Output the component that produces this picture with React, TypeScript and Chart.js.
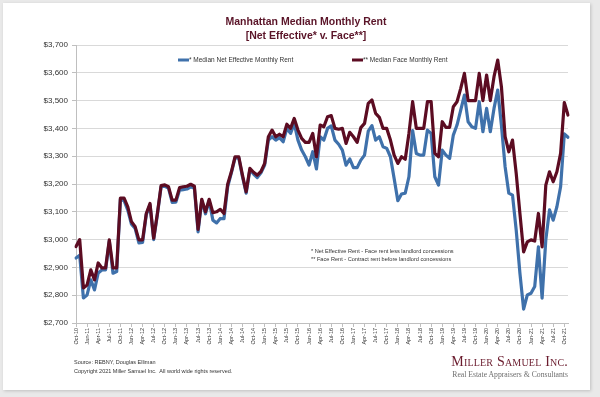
import React, { useEffect, useRef } from 'react';
import { Chart, registerables } from 'chart.js';

Chart.register(...registerables);

const months = [
  'Oct-10', 'Nov-10', 'Dec-10',
  'Jan-11', 'Feb-11', 'Mar-11', 'Apr-11', 'May-11', 'Jun-11', 'Jul-11', 'Aug-11', 'Sep-11', 'Oct-11', 'Nov-11', 'Dec-11',
  'Jan-12', 'Feb-12', 'Mar-12', 'Apr-12', 'May-12', 'Jun-12', 'Jul-12', 'Aug-12', 'Sep-12', 'Oct-12', 'Nov-12', 'Dec-12',
  'Jan-13', 'Feb-13', 'Mar-13', 'Apr-13', 'May-13', 'Jun-13', 'Jul-13', 'Aug-13', 'Sep-13', 'Oct-13', 'Nov-13', 'Dec-13',
  'Jan-14', 'Feb-14', 'Mar-14', 'Apr-14', 'May-14', 'Jun-14', 'Jul-14', 'Aug-14', 'Sep-14', 'Oct-14', 'Nov-14', 'Dec-14',
  'Jan-15', 'Feb-15', 'Mar-15', 'Apr-15', 'May-15', 'Jun-15', 'Jul-15', 'Aug-15', 'Sep-15', 'Oct-15', 'Nov-15', 'Dec-15',
  'Jan-16', 'Feb-16', 'Mar-16', 'Apr-16', 'May-16', 'Jun-16', 'Jul-16', 'Aug-16', 'Sep-16', 'Oct-16', 'Nov-16', 'Dec-16',
  'Jan-17', 'Feb-17', 'Mar-17', 'Apr-17', 'May-17', 'Jun-17', 'Jul-17', 'Aug-17', 'Sep-17', 'Oct-17', 'Nov-17', 'Dec-17',
  'Jan-18', 'Feb-18', 'Mar-18', 'Apr-18', 'May-18', 'Jun-18', 'Jul-18', 'Aug-18', 'Sep-18', 'Oct-18', 'Nov-18', 'Dec-18',
  'Jan-19', 'Feb-19', 'Mar-19', 'Apr-19', 'May-19', 'Jun-19', 'Jul-19', 'Aug-19', 'Sep-19', 'Oct-19', 'Nov-19', 'Dec-19',
  'Jan-20', 'Feb-20', 'Mar-20', 'Apr-20', 'May-20', 'Jun-20', 'Jul-20', 'Aug-20', 'Sep-20', 'Oct-20', 'Nov-20', 'Dec-20',
  'Jan-21', 'Feb-21', 'Mar-21', 'Apr-21', 'May-21', 'Jun-21', 'Jul-21', 'Aug-21', 'Sep-21', 'Oct-21', 'Nov-21',
];

const netEffectiveRent = [
  2934, 2944, 2790,
  2801, 2855, 2819, 2880, 2891, 2891, 2995, 2879, 2885, 3145, 3140, 3106,
  3055, 3040, 2988, 2990, 3090, 3125, 3000, 3090, 3190, 3192, 3185, 3134,
  3135, 3178, 3180, 3182, 3190, 3185, 3028, 3140, 3093, 3140, 3070, 3060,
  3076, 3075, 3190, 3240, 3294, 3294, 3226, 3167, 3250, 3236, 3223, 3240,
  3268, 3358, 3370, 3358, 3367, 3352, 3400, 3382, 3418, 3358, 3322, 3298,
  3268, 3316, 3254, 3370, 3358, 3400, 3409, 3358, 3343, 3322, 3268, 3290,
  3259, 3259, 3286, 3304, 3390, 3410, 3358, 3370, 3334, 3328, 3298, 3220,
  3140, 3164, 3167, 3226, 3392, 3310, 3304, 3304, 3394, 3382, 3226, 3196,
  3322, 3304, 3292, 3376, 3412, 3466, 3520, 3424, 3406, 3400, 3496, 3388,
  3472, 3388, 3472, 3538, 3412, 3262, 3167, 3160, 3034, 2879, 2750, 2801,
  2807, 2831, 2974, 2789, 2999, 3107, 3070, 3118, 3190, 3380, 3368,
];

const faceRent = [
  2975, 3000, 2826,
  2837, 2891, 2855, 2916, 2898, 2898, 2999, 2898, 2898, 3149, 3149, 3118,
  3064, 3046, 2999, 2999, 3094, 3130, 3005, 3094, 3194, 3197, 3190, 3142,
  3142, 3187, 3190, 3192, 3199, 3192, 3037, 3145, 3100, 3145, 3097, 3100,
  3109, 3094, 3199, 3244, 3298, 3298, 3232, 3172, 3256, 3242, 3232, 3245,
  3274, 3370, 3394, 3370, 3379, 3370, 3415, 3400, 3436, 3394, 3364, 3350,
  3350, 3382, 3298, 3412, 3406, 3442, 3446, 3400, 3397, 3400, 3346, 3386,
  3370, 3350, 3403, 3418, 3490, 3502, 3454, 3440, 3400, 3400, 3358, 3304,
  3274, 3298, 3289, 3382, 3496, 3400, 3400, 3400, 3496, 3496, 3310, 3298,
  3424, 3404, 3404, 3478, 3496, 3544, 3598, 3500, 3500, 3500, 3598, 3500,
  3592, 3500, 3586, 3646, 3550, 3370, 3316, 3358, 3238, 3094, 2956, 2992,
  2999, 2995, 3094, 2974, 3196, 3244, 3208, 3244, 3310, 3493, 3448,
];

const seriesLabels = ['* Median Net Effective Monthly Rent', '** Median Face Monthly Rent'];
const seriesColors = ['#3f71ab', '#5c0c22'];
const yMin = 2700;
const yMax = 3700;
const yStep = 100;
const labelEvery = 3;

const titleLines = ['Manhattan Median Monthly Rent', '[Net Effective* v. Face**]'];
const footnotes = [
  '* Net Effective Rent - Face rent less landlord concessions',
  '** Face Rent - Contract rent before landlord concessions',
];
const sourceLines = [
  'Source: REBNY, Douglas Elliman',
  'Copyright 2021 Miller Samuel Inc.  All world wide rights reserved.',
];
const logoName = 'Miller Samuel Inc.';
const logoTagline = 'Real Estate Appraisers & Consultants';

const FONT = "'Liberation Sans', Arial, sans-serif";

const insideLegend = {
  id: 'insideLegend',
  afterDraw(chart: any) {
    const { ctx, chartArea } = chart;
    const y = chartArea.top + 15;
    const starts = [chartArea.left + 102, chartArea.left + 276];
    ctx.save();
    chart.data.datasets.forEach((ds: any, i: number) => {
      const x = starts[i];
      ctx.strokeStyle = ds.borderColor;
      ctx.lineWidth = 3;
      ctx.lineCap = 'butt';
      ctx.beginPath();
      ctx.moveTo(x, y);
      ctx.lineTo(x + 11, y);
      ctx.stroke();
      ctx.fillStyle = '#333333';
      ctx.font = `6.5px ${FONT}`;
      ctx.textBaseline = 'middle';
      ctx.textAlign = 'left';
      ctx.fillText(ds.label, x + 11, y);
    });
    ctx.restore();
  },
};

function RentChart() {
  const ref = useRef<HTMLCanvasElement | null>(null);
  useEffect(() => {
    if (!ref.current) return;
    const chart = new Chart(ref.current, {
      type: 'line',
      data: {
        labels: months,
        datasets: [
          {
            label: seriesLabels[0],
            data: netEffectiveRent,
            borderColor: seriesColors[0],
            backgroundColor: seriesColors[0],
            borderWidth: 3.2,
            pointRadius: 0,
            tension: 0,
            borderJoinStyle: 'round',
            borderCapStyle: 'round',
            order: 2,
          },
          {
            label: seriesLabels[1],
            data: faceRent,
            borderColor: seriesColors[1],
            backgroundColor: seriesColors[1],
            borderWidth: 3.2,
            pointRadius: 0,
            tension: 0,
            borderJoinStyle: 'round',
            borderCapStyle: 'round',
            order: 1,
          },
        ],
      },
      options: {
        responsive: false,
        animation: false,
        devicePixelRatio: 1,
        layout: { padding: { left: 0, right: 32, top: 45, bottom: 44 } },
        plugins: {
          legend: { display: false },
          title: { display: false },
          tooltip: { enabled: false },
        },
        scales: {
          x: {
            type: 'category',
            offset: false,
            afterFit: (scale: any) => {
              scale.height = 30;
            },
            grid: {
              drawOnChartArea: false,
              tickLength: 4,
              tickColor: (c: any) => (c.index % labelEvery === 0 ? '#bfbfbf' : 'rgba(0,0,0,0)'),
            },
            border: { color: '#bfbfbf', width: 1 },
            ticks: {
              autoSkip: false,
              maxRotation: 90,
              minRotation: 90,
              padding: 1,
              color: '#333333',
              font: { family: FONT, size: 5.5 },
              callback: (_v: any, i: number) => (i % labelEvery === 0 ? months[i] : ''),
            },
          },
          y: {
            min: yMin,
            max: yMax,
            afterFit: (scale: any) => {
              scale.width = 76;
            },
            grid: {
              color: '#d9d9d9',
              lineWidth: 1,
              tickLength: 4,
              tickColor: '#bfbfbf',
            },
            border: { color: '#bfbfbf', width: 1 },
            ticks: {
              stepSize: yStep,
              padding: 4,
              color: '#333333',
              font: { family: FONT, size: 8 },
              callback: (v: any) => '$' + Number(v).toLocaleString('en-US'),
            },
          },
        },
      },
      plugins: [insideLegend],
    } as any);
    return () => chart.destroy();
  }, []);
  return <canvas ref={ref} width={600} height={397} style={{ position: 'absolute', left: 0, top: 0, width: 600, height: 397 }} />;
}

export default function App() {
  return (
    <div style={{ position: 'fixed', left: 0, top: 0, width: 600, height: 397, background: '#e9e9e9', overflow: 'hidden', fontFamily: FONT }}>
      <div style={{ position: 'absolute', left: 3, top: 3, width: 587, height: 387, background: '#ffffff', boxShadow: '1px 1px 3px rgba(0,0,0,0.18)' }} />
      <RentChart />
      <div style={{ position: 'absolute', left: 106, top: 15, width: 400, textAlign: 'center', color: '#5a1428', fontWeight: 'bold', fontSize: 10.5, lineHeight: '13.5px' }}>
        {titleLines.map((t) => (
          <div key={t}>{t}</div>
        ))}
      </div>
      <div style={{ position: 'absolute', left: 311, top: 247, color: '#333', fontSize: 5.6, lineHeight: '8px', whiteSpace: 'pre' }}>
        {footnotes.map((t) => (
          <div key={t}>{t}</div>
        ))}
      </div>
      <div style={{ position: 'absolute', left: 74, top: 358, color: '#333', fontSize: 5.5, lineHeight: '9px', whiteSpace: 'pre' }}>
        {sourceLines.map((t) => (
          <div key={t}>{t}</div>
        ))}
      </div>
      <div style={{ position: 'absolute', right: 32, top: 353, textAlign: 'right', fontFamily: "'Liberation Serif', 'Times New Roman', serif", whiteSpace: 'nowrap' }}>
        <div style={{ color: '#6b1c2e', fontSize: 14, fontVariant: 'small-caps', lineHeight: '17px', letterSpacing: 0.2 }}>{logoName}</div>
        <div style={{ color: '#6e6e6e', fontSize: 7.7, lineHeight: '10px' }}>{logoTagline}</div>
      </div>
    </div>
  );
}
